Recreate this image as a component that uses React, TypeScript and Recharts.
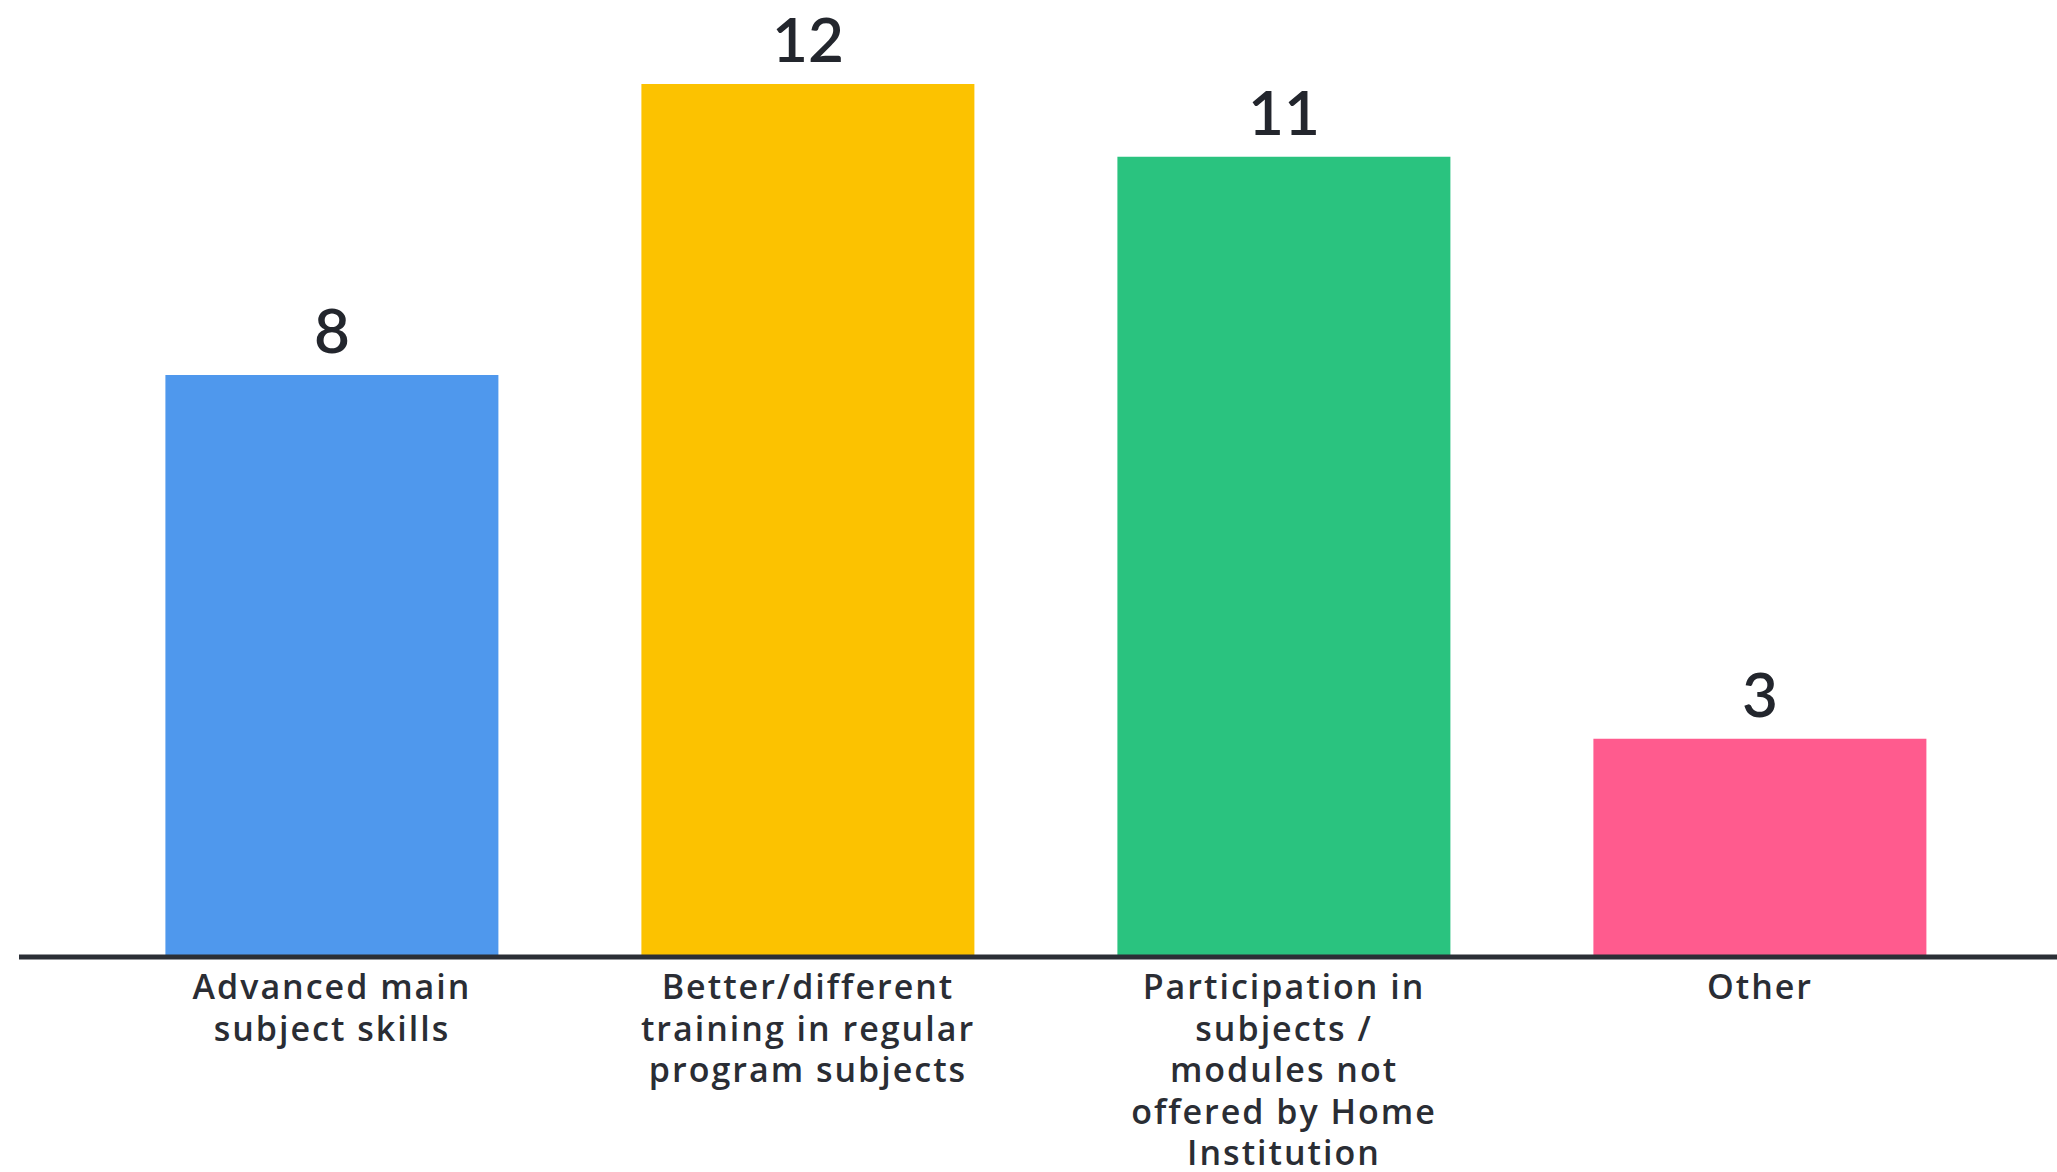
import React from "react";
import { BarChart, Bar, XAxis, YAxis, Cell, LabelList } from "recharts";

const categories = [
  "Advanced main subject skills",
  "Better/different training in regular program subjects",
  "Participation in subjects / modules not offered by Home Institution",
  "Other",
];
const counts = [8, 12, 11, 3];
const tickLines: string[][] = [
  ["Advanced main", "subject skills"],
  ["Better/different", "training in regular", "program subjects"],
  ["Participation in", "subjects /", "modules not", "offered by Home", "Institution"],
  ["Other"],
];
const colors = ["#4F98ED", "#FCC200", "#2AC37F", "#FF5B8E"];
const yTicks = [0, 12];

const data = categories.map((c, i) => ({ name: c, value: counts[i], idx: i }));

const TICK_FONT = "'Open Sans', sans-serif";
const NUM_FONT = "Lato, 'Open Sans', sans-serif";

const MultiTick = (props: any) => {
  const { x, y, index } = props;
  const lines = tickLines[index] || [];
  return (
    <g>
      {lines.map((l, i) => (
        <text
          key={i}
          x={x}
          y={y + 42 + i * 41.5}
          textAnchor="middle"
          fontFamily={TICK_FONT}
          fontSize={34}
          fontWeight={600}
          letterSpacing={2}
          fill="#2A2D34"
        >
          {l}
        </text>
      ))}
    </g>
  );
};

export default function App() {
  return (
    <div style={{ position: "absolute", left: 0, top: 0, background: "#fff" }}>
      <BarChart
        width={2057}
        height={1172}
        data={data}
        margin={{ top: 84, right: 0, bottom: 185, left: 19 }}
        barCategoryGap="15%"
      >
        <YAxis hide domain={[0, 12]} ticks={yTicks} />
        <XAxis
          dataKey="name"
          height={30}
          axisLine={{ stroke: "#2B2F36", strokeWidth: 5 }}
          tickLine={false}
          tickSize={0}
          tickMargin={0}
          interval={0}
          padding={{ left: 75, right: 59 }}
          tick={<MultiTick />}
        />
        <Bar dataKey="value" isAnimationActive={false}>
          {data.map((d, i) => (
            <Cell key={i} fill={colors[i]} />
          ))}
          <LabelList
            dataKey="value"
            position="top"
            offset={22}
            fontFamily={NUM_FONT}
            fontSize={62}
            fontWeight={600}
            fill="#23262D"
          />
        </Bar>
      </BarChart>
    </div>
  );
}
